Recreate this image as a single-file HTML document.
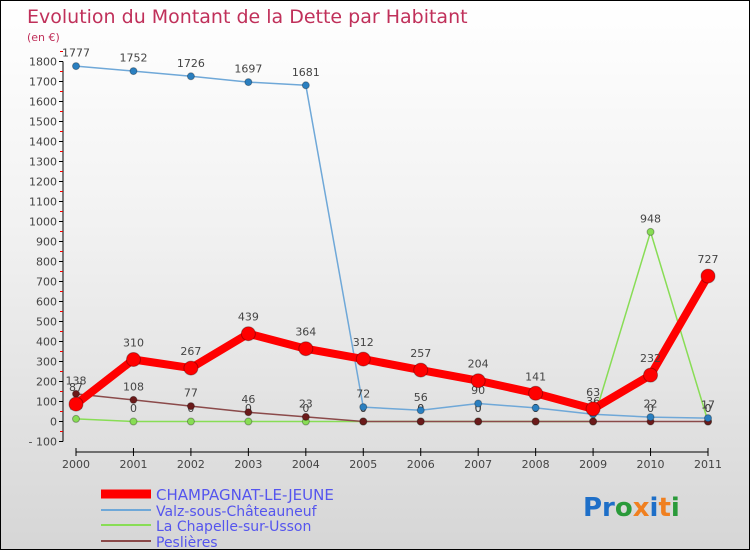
<!DOCTYPE html>
<html><head><meta charset="utf-8"><style>
body{margin:0}
#c{width:750px;height:550px;position:relative;box-sizing:border-box;border:1px solid #000;background:linear-gradient(#ffffff 0%,#f2f2f2 40%,#d6d6d6 100%);font-family:"DejaVu Sans","Liberation Sans",sans-serif;overflow:hidden}
svg text{font-family:"DejaVu Sans","Liberation Sans",sans-serif}
</style></head><body>
<div id="c">
<svg id="s" width="750" height="550">
<text x="26" y="22" font-size="19" fill="#c0305a">Evolution du Montant de la Dette par Habitant</text>
<text x="26" y="40" font-size="11" fill="#c0305a">(en €)</text>
<g id="axes"></g><g id="series"></g>
<g>
<line x1="100" y1="493" x2="150" y2="493" stroke="#ff0000" stroke-width="9"/>
<text x="155" y="499" font-size="15" fill="#5555ee">CHAMPAGNAT-LE-JEUNE</text>
<line x1="100" y1="509" x2="150" y2="509" stroke="#6fa8d8" stroke-width="2"/>
<text x="155" y="515" font-size="14" fill="#5555ee">Valz-sous-Châteauneuf</text>
<line x1="100" y1="524" x2="150" y2="524" stroke="#88dd55" stroke-width="2"/>
<text x="155" y="530" font-size="14" fill="#5555ee">La Chapelle-sur-Usson</text>
<line x1="100" y1="540" x2="150" y2="540" stroke="#8b4a4a" stroke-width="2"/>
<text x="155" y="546" font-size="14" fill="#5555ee">Peslières</text>
</g>
<text x="582" y="515" font-size="26" font-weight="bold"><tspan fill="#1e6fc8">Pr</tspan><tspan fill="#2a9a3a">o</tspan><tspan fill="#f08020">x</tspan><tspan fill="#1e6fc8">i</tspan><tspan fill="#f08020">t</tspan><tspan fill="#2a9a3a">i</tspan></text>
</svg></div>
<script>
const years=[2000,2001,2002,2003,2004,2005,2006,2007,2008,2009,2010,2011];
const champagnat=[87,310,267,439,364,312,257,204,141,63,232,727];
const valz=[1777,1752,1726,1697,1681,72,56,90,68,36,22,17];
const chapelle=[13,0,0,0,0,0,0,0,0,0,948,0];
const peslieres=[138,108,77,46,23,0,0,0,0,0,0,0];
const yTicks=[-100,0,100,200,300,400,500,600,700,800,900,1000,1100,1200,1300,1400,1500,1600,1700,1800];
const NS="http://www.w3.org/2000/svg";
const X=i=>75+i*(632/11);
const Y=v=>420.5-v*0.2;
function mk(p,t,a){const e=document.createElementNS(NS,t);for(const k in a)e.setAttribute(k,a[k]);p.appendChild(e);return e;}
const ax=document.getElementById('axes'),sg=document.getElementById('series');
let yl=mk(ax,'line',{x1:62,y1:Y(1800),x2:62,y2:Y(-100),stroke:'#000'});


yTicks.forEach(v=>{
 mk(ax,'line',{x1:58,y1:Y(v),x2:62,y2:Y(v),stroke:'#000'});
 mk(ax,'line',{x1:59,y1:Y(v+50),x2:62,y2:Y(v+50),stroke:'#e00'});
 const t=mk(ax,'text',{x:56,y:Y(v)+4,'font-size':11,fill:'#444','text-anchor':'end'});
 t.textContent=v<0?'- '+(-v):v;
 
 
});
let xl=mk(ax,'line',{x1:X(0),y1:451,x2:X(11),y2:451,stroke:'#000'});


years.forEach((y,i)=>{
 mk(ax,'line',{x1:X(i),y1:447,x2:X(i),y2:455,stroke:'#000'});
 const t=mk(ax,'text',{x:X(i),y:467,'font-size':11,fill:'#444','text-anchor':'middle'});
 t.textContent=y;
 
 
});
function series(data,name,col,w,r,dot){
 const g=mk(sg,'g',{});
 
 
 const pl=mk(g,'polyline',{points:data.map((v,i)=>X(i)+','+Y(v)).join(' '),fill:'none',stroke:col,'stroke-width':w,'stroke-linejoin':'round'});
 
 
 data.forEach((v,i)=>{
  const c=mk(g,'circle',{cx:X(i),cy:Y(v),r:r,fill:dot,stroke:'rgba(0,0,0,0.3)'});
  
  
  const t=mk(g,'text',{x:X(i),y:Y(v)-r-6,'font-size':11,fill:'#444','text-anchor':'middle'});
  t.textContent=v;
  
  
 });
}
series(chapelle,'chapelle','#88dd55',1.5,3.5,'#88dd55');
series(peslieres,'peslieres','#8b4a4a',1.5,3.5,'#6b1a1a');
series(valz,'valz','#6fa8d8',1.5,3.5,'#2a7fc0');
series(champagnat,'champagnat','#ff0000',8,7,'#ff0000');
</script>
</body></html>
